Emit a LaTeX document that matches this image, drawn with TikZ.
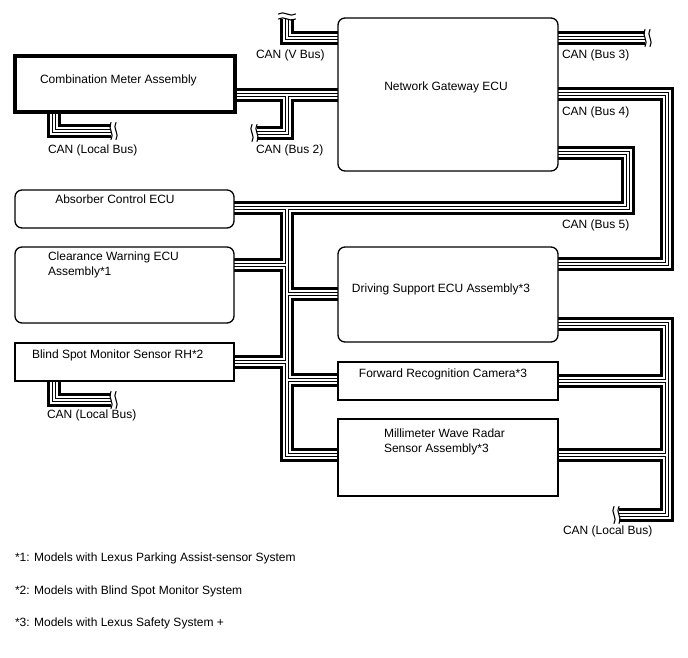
\documentclass[tikz,border=0pt]{standalone}
\usepackage{fontspec}
\setmainfont{Liberation Sans}
\pgfdeclarelayer{bg}
\pgfsetlayers{bg,main}
\newcommand\allbuses[1]{%
 \draw[#1] (meter.east |- yM) -- (gw.west |- yM);
 \draw[#1] (xT |- yM) -- (xT |- b2End) -- (b2End);
 \draw[#1] (gw.west |- yV) -| (vEnd);
 \draw[#1] (gw.east |- yV) -- (b3End);
 \draw[#1] (gw.east |- yB4) -| (xR |- yB4e) -- (dse.east |- yB4e);
 \draw[#1] (gw.east |- yB5) -| (x5 |- yAbs) -- (abs.east |- yAbs);
 \draw[#1] (xT |- yAbs) -- (xT |- yMwr) -- (mwr.west |- yMwr);
 \draw[#1] (xT |- yClr) -- (clr.east |- yClr);
 \draw[#1] (xT |- yBsm) -- (bsm.east |- yBsm);
 \draw[#1] (xT |- yDse) -- (dse.west |- yDse);
 \draw[#1] (xT |- yFrc) -- (frc.west |- yFrc);
 \draw[#1] (meter.south -| xL) -- (xL |- loc1End) -- (loc1End);
 \draw[#1] (bsm.south -| xL) -- (xL |- loc2End) -- (loc2End);
 \draw[#1] (dse.east |- yL3) -| (xR |- loc3End) -- (loc3End);
 \draw[#1] (frc.east |- yFrcR) -- (xR |- yFrcR);
 \draw[#1] (mwr.east |- yMwr) -- (xR |- yMwr);
}
\newcommand\vbrk[1]{\draw[brk] (#1) ++(0,-8.5) .. controls +(-4,5) and +(4,-5) .. ++(0,17);}
\newcommand\hbrk[1]{\draw[brk] (#1) ++(-8.5,0) .. controls +(5,-4) and +(-5,4) .. ++(17,0);}
\begin{document}
\begin{tikzpicture}[x=1pt,y=-1pt,
  every node/.style={font=\fontsize{12}{15}\selectfont, inner sep=0pt, outer sep=0pt},
  box/.style={draw, line width=1.3pt, fill=white, anchor=north west},
  rbox/.style={box, rounded corners=7pt},
  lbl/.style={anchor=west},
  brk/.style={line width=1.1pt, line cap=round},
  line join=miter, line cap=butt]
\useasboundingbox (0,0) rectangle (688,658);
% boxes
\node[box, line width=3.5pt, minimum width=220pt, minimum height=56pt] (meter) at (15,56) {};
\node[rbox, minimum width=220pt, minimum height=153pt] (gw) at (338,18) {};
\node[rbox, minimum width=219pt, minimum height=38pt] (abs) at (15,190) {};
\node[rbox, minimum width=219pt, minimum height=76pt] (clr) at (15,247) {};
\node[box, minimum width=219pt, minimum height=38pt] (bsm) at (15,343) {};
\node[rbox, minimum width=220pt, minimum height=95pt] (dse) at (338,247) {};
\node[box, minimum width=220pt, minimum height=38pt] (frc) at (338,362) {};
\node[box, minimum width=220pt, minimum height=77pt] (mwr) at (338,419) {};
% texts
\node[anchor=west] (tmeter) at (40,80) {Combination Meter Assembly};
\node (tgw) at (446,87) {Network Gateway ECU};
\node (tabs) at (115,199) {Absorber Control ECU};
\node[anchor=west, align=left] (tclr) at (48,265) {Clearance Warning ECU\\Assembly*1};
\node[anchor=west] (tbsm) at (32,355) {Blind Spot Monitor Sensor RH*2};
\node (tdse) at (441,289) {Driving Support ECU Assembly*3};
\node (tfrc) at (443,374) {Forward Recognition Camera*3};
\node[anchor=west, align=left] (tmwr) at (384,442) {Millimeter Wave Radar\\Sensor Assembly*3};
% labels
\node[lbl] (lv) at (256,55) {CAN (V Bus)};
\node[lbl] (l2) at (256,150) {CAN (Bus 2)};
\node[lbl] (lloc1) at (48,150) {CAN (Local Bus)};
\node[lbl] (l3) at (562,55) {CAN (Bus 3)};
\node[lbl] (l4) at (562,112) {CAN (Bus 4)};
\node[lbl] (l5) at (562,225) {CAN (Bus 5)};
\node[lbl] (lloc2) at (47,415) {CAN (Local Bus)};
\node[lbl] (lloc3) at (563,531) {CAN (Local Bus)};
\node[lbl] (fn1) at (15,558) {*1: Models with Lexus Parking Assist-sensor System};
\node[lbl] (fn2) at (15,591) {*2: Models with Blind Spot Monitor System};
\node[lbl] (fn3) at (15,623) {*3: Models with Lexus Safety System +};
% reference coordinates
\coordinate (yM) at (0,95);
\coordinate (yV) at (0,38);
\coordinate (yB4) at (0,94);
\coordinate (yB4e) at (0,264);
\coordinate (yB5) at (0,153);
\coordinate (yAbs) at (0,208);
\coordinate (yClr) at (0,265);
\coordinate (yBsm) at (0,362);
\coordinate (yDse) at (0,294);
\coordinate (yFrc) at (0,380);
\coordinate (yMwr) at (0,455);
\coordinate (yL3) at (0,324);
\coordinate (yFrcR) at (0,381);
\coordinate (xT) at (287,0);
\coordinate (xR) at (667,0);
\coordinate (x5) at (628,0);
\coordinate (xL) at (54,0);
\coordinate (vEnd) at (287,19);
\coordinate (b2End) at (257,133);
\coordinate (b3End) at (645,38);
\coordinate (loc1End) at (111,131);
\coordinate (loc2End) at (111,400);
\coordinate (loc3End) at (619,515);
\begin{pgfonlayer}{bg}
\allbuses{line width=14pt}
\allbuses{line width=7.5pt, white}
\allbuses{line width=3.5pt}
\allbuses{line width=1.4pt, white}
\end{pgfonlayer}
% break marks
\coordinate (vEnd2) at ([yshift=5pt]vEnd);
\coordinate (b2End2) at ([xshift=-5pt]b2End);
\coordinate (b3End2) at ([xshift=5pt]b3End);
\coordinate (loc1End2) at ([xshift=5pt]loc1End);
\coordinate (loc2End2) at ([xshift=5pt]loc2End);
\coordinate (loc3End2) at ([xshift=-5pt]loc3End);
\hbrk{vEnd} \hbrk{vEnd2}
\vbrk{b2End} \vbrk{b2End2}
\vbrk{b3End} \vbrk{b3End2}
\vbrk{loc1End} \vbrk{loc1End2}
\vbrk{loc2End} \vbrk{loc2End2}
\vbrk{loc3End} \vbrk{loc3End2}
\end{tikzpicture}
\end{document}
